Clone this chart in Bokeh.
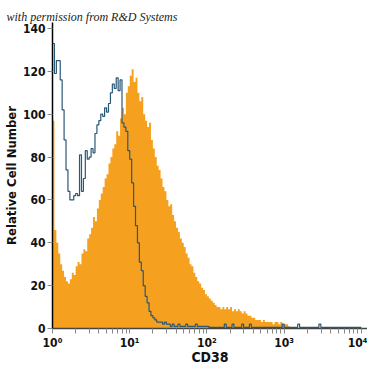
from bokeh.plotting import figure
from bokeh.models import FixedTicker, Range1d, Title
from bokeh.embed import file_html
from bokeh.resources import INLINE

# Histogram bins: 0.025 decade wide, starting at 10^0
bin_width_decades = 0.025

cd38_counts = [97,46,40,35,30,27,24,22,21,23,
               26,25,29,31,30,35,37,36,42,44,
               47,52,50,56,60,63,66,70,72,77,
               80,84,86,92,90,98,103,100,110,113,
               118,121,115,117,110,106,108,100,97,94,
               96,88,84,80,76,74,70,66,64,60,
               57,58,53,50,47,45,42,40,38,35,
               33,30,29,26,24,22,21,19,18,16,
               15,14,13,12,11,10,10,9,10,9,
               10,9,10,8,9,8,9,8,7,8,
               7,6,6,5,5,4,4,4,3,4,
               3,3,3,3,2,3,3,2,3,2,
               2,2,1,0.5]

isotype_counts = [133,119,125,125,116,102,88,74,64,60,
                  60,62,63,62,81,64,70,83,79,80,
                  84,82,91,95,97,100,99,103,101,105,
                  110,114,112,117,111,116,96,94,92,83,
                  79,68,57,48,40,31,27,20,15,12,
                  8,6,5,4,3,3,3,2,3,2,
                  2,1,2,1,1,2,1,1,1,2,
                  1,1,1,1,2,1,1,1,1,1,
                  1,0.5,0.5,0.5,0.5,0.5,0.5,0.5,0.5,2,
                  0.5,0.5,0.5,2,0.5,0.5,0.5,0.5,2,0.5,
                  0.5,0.5,2,0.5,0.5,0.5,0.5,0.5,0.5,0.5,
                  0.5,0.5,0.5,0.5,0.5,0.5,0.5,0.5,0.5,2,
                  0.5,0.5,0.5,0.5,0.5,0.5,0.5,2,0.5,0.5,
                  0.5,0.5,0.5,0.5,0.5,0.5,0.5,0.5,2,0.5,
                  0.5,0.5,0.5,0.5,0.5,0.5,0.5,0.5,0.5,0.5,
                  0.5,0.5,0.5,0.5,0.5,0.5,0.5,0.5,0.5,0.5]

y_ticks = [0, 20, 40, 60, 80, 100, 120, 140]
x_ticks = [1, 10, 100, 1000, 10000]
x_tick_labels = ["10\u2070", "10\u00b9", "10\u00b2", "10\u00b3", "10\u2074"]
x_minor = [m * d for d in [1, 10, 100, 1000] for m in range(2, 10)]

FONT = "'Liberation Sans Narrow', 'DejaVu Sans Condensed', sans-serif"

p = figure(width=367, height=367, x_axis_type="log",
           x_range=Range1d(1, 12000), y_range=Range1d(0, 142.8),
           output_backend="svg", toolbar_location=None,
           min_border_left=49, min_border_right=0, min_border_top=22,
           min_border_bottom=0)

p.add_layout(Title(text="with permission from R&D Systems",
                   text_font="'Liberation Serif', serif",
                   text_font_size="12px", text_font_style="italic",
                   text_color="#222222", offset=-46, standoff=-3), "above")


def step_outline(counts, closed):
    xs, ys = [], []
    if closed:
        xs.append(1.0)
        ys.append(0)
    for k, v in enumerate(counts):
        xs += [10 ** (k * bin_width_decades), 10 ** ((k + 1) * bin_width_decades)]
        ys += [v, v]
    if closed:
        xs.append(xs[-1])
        ys.append(0)
    return xs, ys


# orange histogram (filled step area)
ox, oy = step_outline(cd38_counts, True)
p.patch(ox, oy, fill_color="#F6A01F", line_color=None)

# isotype step line
bx, by = step_outline(isotype_counts, False)
p.line(bx, by, line_color="#2a5877", line_width=1.2)

p.grid.visible = False
p.outline_line_color = None

p.xaxis.ticker = FixedTicker(ticks=x_ticks, minor_ticks=x_minor)
p.xaxis.major_label_overrides = {float(t): l for t, l in zip(x_ticks, x_tick_labels)}
p.yaxis.ticker = FixedTicker(ticks=y_ticks)
p.yaxis.minor_tick_line_color = None

for ax in (p.xaxis[0], p.yaxis[0]):
    ax.major_label_text_font = FONT
    ax.major_label_text_font_size = "12px"
    ax.major_label_text_font_style = "bold"
    ax.major_label_text_color = "#111111"
    ax.axis_label_text_font = FONT
    ax.axis_label_text_font_style = "bold"
    ax.axis_label_text_color = "#111111"
    ax.major_tick_line_color = "#888888"
    ax.major_tick_in = 0
    ax.major_tick_out = 5
    ax.major_label_standoff = 2

p.yaxis.axis_label_standoff = 1
p.xaxis.axis_label_standoff = -4

p.xaxis.minor_tick_line_color = "#888888"
p.xaxis.minor_tick_in = 0
p.xaxis.minor_tick_out = 5
p.xaxis.axis_line_color = "#444444"
p.xaxis.axis_line_width = 1.5
p.yaxis.axis_line_color = "#000000"
p.yaxis.axis_line_width = 1.5

p.xaxis.axis_label = "CD38"
p.xaxis.axis_label_text_font_size = "14px"
p.yaxis.axis_label = "Relative Cell Number"
p.yaxis.axis_label_text_font_size = "13px"

open("out.html", "w").write(file_html(p, INLINE))
